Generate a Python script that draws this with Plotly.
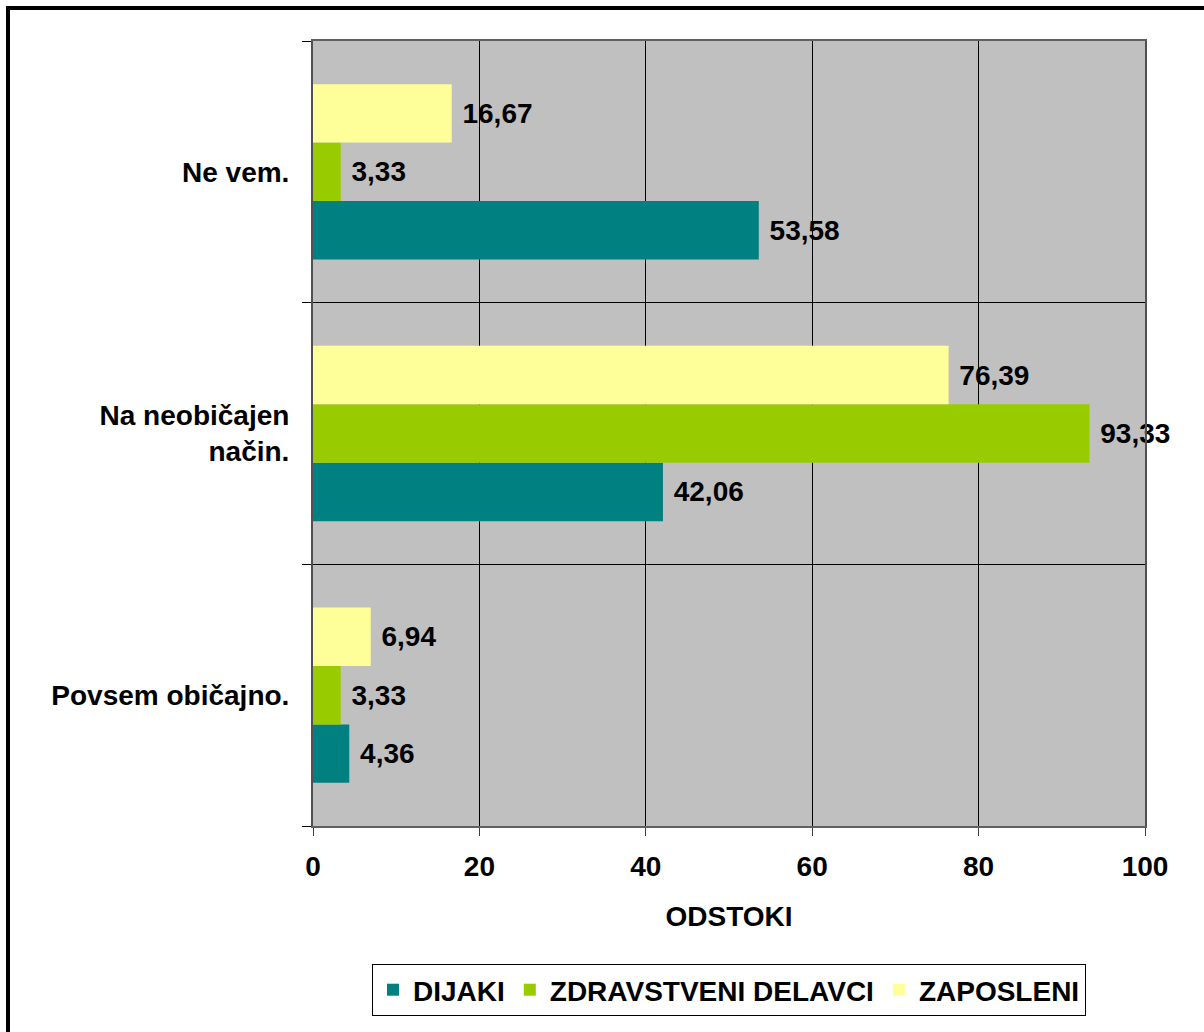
import plotly.graph_objects as go

categories = ["Povsem običajno.", "Na neobičajen<br>način.", "Ne vem."]
series_names = ["DIJAKI", "ZDRAVSTVENI DELAVCI", "ZAPOSLENI"]
dijaki = [4.36, 42.06, 53.58]
zdravstveni = [3.33, 93.33, 3.33]
zaposleni = [6.94, 76.39, 16.67]
x_ticks = [0, 20, 40, 60, 80, 100]
colors = ["#008080", "#99CC00", "#FFFF99"]

FONT = "Liberation Sans, Arial, sans-serif"
W, H = 1204, 1032
L, R, T, B = 313, 59, 41, 206
pw, ph = W - L - R, H - T - B

fig = go.Figure()
for name, vals, col in zip(series_names, [dijaki, zdravstveni, zaposleni], colors):
    fig.add_bar(
        y=categories, x=vals, orientation="h", name=name,
        marker=dict(color=col, line=dict(width=0)),
        texttemplate="\u00a0%{x:.2f}", textposition="outside",
        textfont=dict(family=FONT, size=28, color="black", weight="bold"),
        cliponaxis=False, constraintext="none",
    )

fig.update_layout(
    width=W, height=H,
    margin=dict(l=L, r=R, t=T, b=B, autoexpand=False),
    paper_bgcolor="white", plot_bgcolor="#C0C0C0",
    barmode="group", bargap=0.33, bargroupgap=0,
    separators=",.",
    font=dict(family=FONT, size=28, color="black", weight="bold"),
    legend=dict(
        orientation="h", x=0.5, xanchor="center",
        y=(826 - 990) / ph, yanchor="middle",
        bordercolor="black", borderwidth=1, bgcolor="white",
        font=dict(family=FONT, size=28, color="black", weight="bold"),
        traceorder="normal",
    ),
    xaxis=dict(
        range=[0, 100], tickvals=x_ticks, showgrid=True, gridcolor="black", gridwidth=1,
        zeroline=False, showline=True, linecolor="#606060", linewidth=2, mirror=True,
        ticks="outside", ticklen=8, tickcolor="#404040", tickwidth=1,
        ticklabelstandoff=6,
        tickfont=dict(family=FONT, size=28, weight="bold"),
        title=dict(text="ODSTOKI", standoff=26, font=dict(family=FONT, size=28, weight="bold")),
        fixedrange=True,
    ),
    yaxis=dict(
        type="category", tickson="boundaries", showgrid=True, gridcolor="black", gridwidth=1,
        showline=True, linecolor="#505050", linewidth=2, mirror=True,
        ticks="outside", ticklen=9, tickcolor="black", tickwidth=1,
        ticklabelstandoff=16,
        tickfont=dict(family=FONT, size=28, weight="bold"),
        fixedrange=True,
    ),
    shapes=[dict(
        type="rect", xref="paper", yref="paper",
        x0=(8 - L) / pw, x1=(1212 - L) / pw,
        y0=(826 - 1040) / ph, y1=1 + (T - 8) / ph,
        line=dict(color="black", width=4), fillcolor="rgba(0,0,0,0)", layer="above",
    )],
)

fig.write_html(
    "out.html",
    config={"displayModeBar": False},
    post_script="document.body.style.margin='0';document.body.style.padding='0';",
)
